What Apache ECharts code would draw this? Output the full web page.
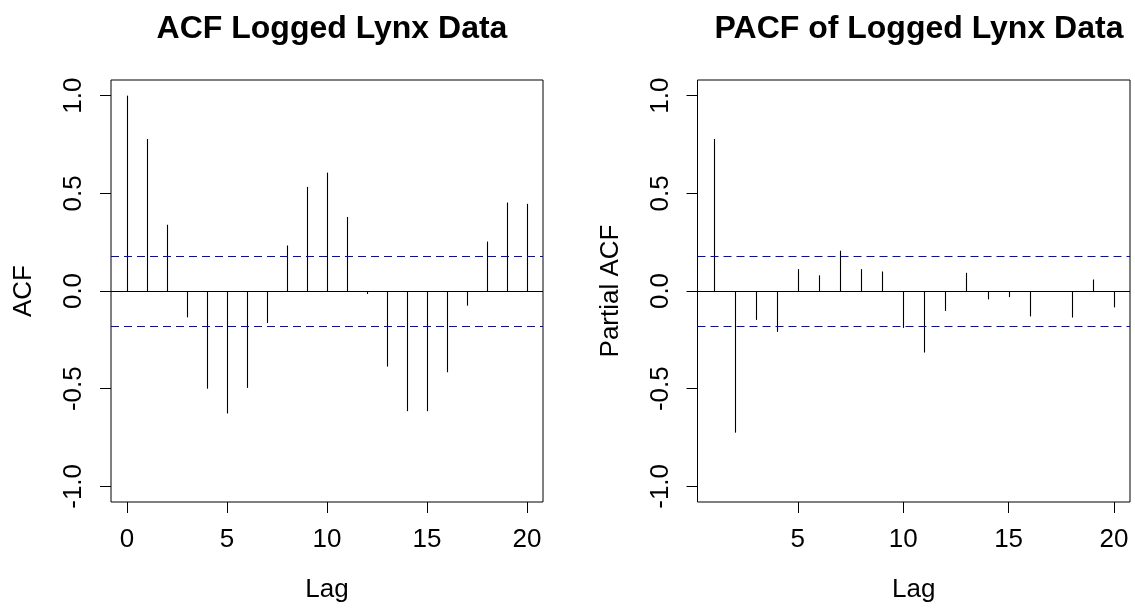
<!DOCTYPE html>
<html>
<head>
<meta charset="utf-8">
<script src="https://cdn.jsdelivr.net/npm/echarts@6/dist/echarts.min.js"></script>
<style>
html,body{margin:0;padding:0;background:#fff;}
#chart{width:1135px;height:608px;}
</style>
</head>
<body>
<div id="chart"></div>
<script>
// ---- data ----
const acfLags = [0,1,2,3,4,5,6,7,8,9,10,11,12,13,14,15,16,17,18,19,20];
const acfValues = [1.000,0.778,0.339,-0.135,-0.500,-0.627,-0.496,-0.164,0.233,0.533,0.606,0.379,-0.015,-0.387,-0.615,-0.615,-0.416,-0.075,0.253,0.453,0.446];
const pacfLags = [1,2,3,4,5,6,7,8,9,10,11,12,13,14,15,16,17,18,19,20];
const pacfValues = [0.778,-0.725,-0.148,-0.209,0.112,0.080,0.206,0.112,0.100,-0.189,-0.315,-0.102,0.093,-0.043,-0.031,-0.130,-0.005,-0.136,0.059,-0.084];
const ciBound = 0.1836;
const acfXTicks = [0,5,10,15,20];
const pacfXTicks = [5,10,15,20];
const yTicks = [-1,-0.5,0,0.5,1];
const titles = ['ACF Logged Lynx Data','PACF of Logged Lynx Data'];
const yNames = ['ACF','Partial ACF'];
const xName = 'Lag';

const FONT = 'Liberation Sans, Arial, Helvetica, sans-serif';
const TICK_FS = 26;

function stemSeries(lags, vals, idx){
  return {
    type:'custom', xAxisIndex:idx, yAxisIndex:idx, silent:true,
    data: lags.map((l,i)=>[l, vals[i]]),
    renderItem: function(params, api){
      const x = api.value(0), y = api.value(1);
      const p0 = api.coord([x,0]);
      const p1 = api.coord([x,y]);
      const px = Math.round(p0[0]) + 0.5; // pixel-snap for a crisp 1px stem
      return {type:'line', shape:{x1:px,y1:p0[1],x2:px,y2:p1[1]},
              style:{stroke:'#000', lineWidth:1.1}};
    }
  };
}
function refSeries(lags, vals, idx){
  return {
    type:'line', xAxisIndex:idx, yAxisIndex:idx, silent:true, symbol:'none',
    data: lags.map((l,i)=>[l, vals[i]]),
    lineStyle:{opacity:0},
    markLine:{
      silent:true, symbol:['none','none'], label:{show:false}, animation:false,
      data:[
        {yAxis:0, lineStyle:{color:'#000', type:'solid', width:1}},
        {yAxis:ciBound, lineStyle:{color:'#0000FF', type:[8,5], width:1}},
        {yAxis:-ciBound, lineStyle:{color:'#0000FF', type:[8,5], width:1}}
      ]
    }
  };
}
function xAxis(idx, min, max, ticks){
  return {
    type:'value', gridIndex:idx, min:min, max:max, position:'bottom',
    axisLine:{show:false, onZero:false},
    splitLine:{show:false},
    axisTick:{show:true, length:11, lineStyle:{color:'#000',width:1}, customValues:ticks},
    axisLabel:{show:true, customValues:ticks, margin:25, color:'#000', fontSize:TICK_FS, fontFamily:FONT},
    name:xName, nameLocation:'middle', nameGap:75,
    nameTextStyle:{color:'#000', fontSize:TICK_FS, fontFamily:FONT}
  };
}
function yAxis(idx, name){
  return {
    type:'value', gridIndex:idx, min:-1.08, max:1.08, position:'left',
    axisLine:{show:false, onZero:false},
    splitLine:{show:false},
    axisTick:{show:true, length:11, lineStyle:{color:'#000',width:1}, customValues:yTicks},
    axisLabel:{show:true, customValues:yTicks, rotate:90, margin:24, color:'#000', fontSize:TICK_FS, fontFamily:FONT,
               formatter:function(v){return v.toFixed(1);}},
    name:name, nameLocation:'middle', nameGap:74,
    nameTextStyle:{color:'#000', fontSize:TICK_FS, fontFamily:FONT}
  };
}

const chart = echarts.init(document.getElementById('chart'), null, {renderer:'canvas'});
chart.setOption({
  animation:false,
  backgroundColor:'#fff',
  title:[
    {text:titles[0], left:327, top:8, textAlign:'center',
     textStyle:{fontSize:32, fontWeight:'bold', color:'#000', fontFamily:FONT}},
    {text:titles[1], left:914, top:8, textAlign:'center',
     textStyle:{fontSize:32, fontWeight:'bold', color:'#000', fontFamily:FONT}}
  ],
  grid:[
    {left:111, top:80, width:432, height:423, show:true, borderColor:'#000', borderWidth:1, backgroundColor:'transparent'},
    {left:697.5, top:80, width:432.5, height:423, show:true, borderColor:'#000', borderWidth:1, backgroundColor:'transparent'}
  ],
  xAxis:[ xAxis(0,-0.8,20.8,acfXTicks), xAxis(1,0.24,20.76,pacfXTicks) ],
  yAxis:[ yAxis(0,yNames[0]), yAxis(1,yNames[1]) ],
  series:[
    refSeries(acfLags, acfValues, 0),
    refSeries(pacfLags, pacfValues, 1),
    stemSeries(acfLags, acfValues, 0),
    stemSeries(pacfLags, pacfValues, 1)
  ]
});
</script>
</body>
</html>
